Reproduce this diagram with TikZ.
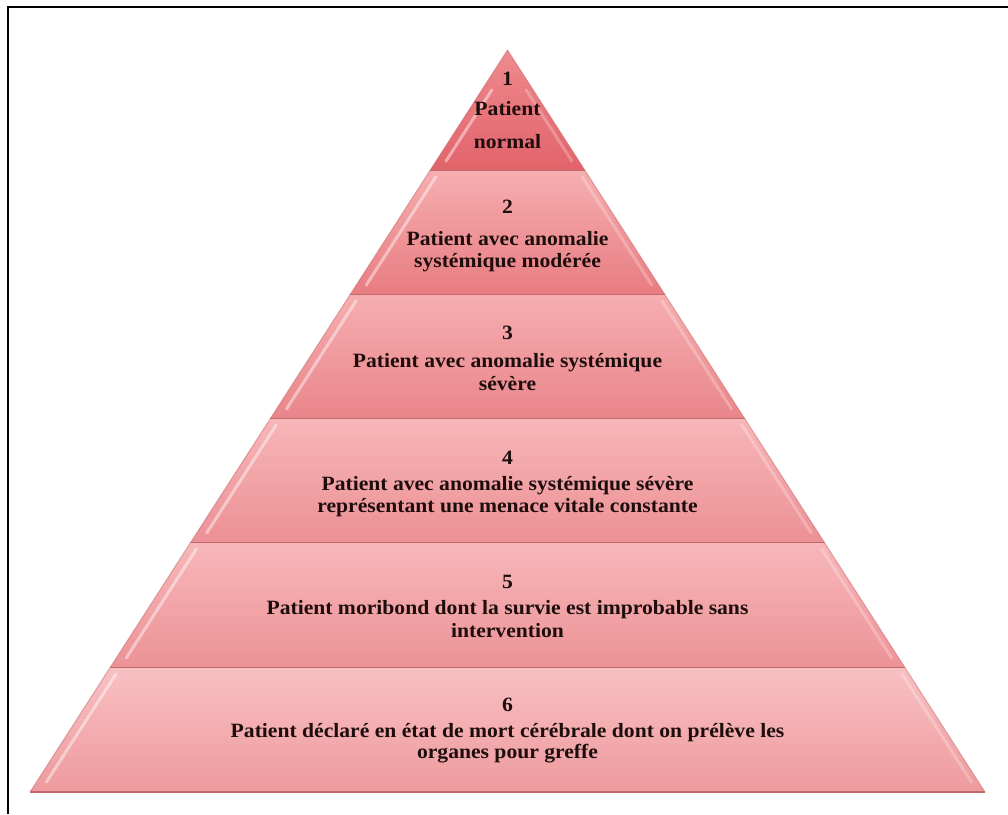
\documentclass[tikz,border=0pt]{standalone}
\usepackage{fontspec}
\newfontfamily\tierfont[FakeStretch=1.065]{Liberation Serif}
\definecolor{txtcol}{HTML}{1E0D0D}
\definecolor{edgecol}{HTML}{C2696E}
\definecolor{ta}{HTML}{EE8A8E}\definecolor{tb}{HTML}{E97379}\definecolor{tc}{HTML}{E2636A}
\definecolor{ua}{HTML}{F6AEB0}\definecolor{ub}{HTML}{F19599}\definecolor{uc}{HTML}{E87C81}
\definecolor{va}{HTML}{F6AEB0}\definecolor{vb}{HTML}{F19A9D}\definecolor{vc}{HTML}{E9858A}
\definecolor{wa}{HTML}{F7B6B8}\definecolor{wb}{HTML}{F3A4A7}\definecolor{wc}{HTML}{EC9094}
\definecolor{xa}{HTML}{F7B7B9}\definecolor{xb}{HTML}{F3A6A9}\definecolor{xc}{HTML}{EC9296}
\definecolor{ya}{HTML}{F8C0C2}\definecolor{yb}{HTML}{F4AEB0}\definecolor{yc}{HTML}{EE9A9D}
\begin{document}
\begin{tikzpicture}[x=1pt,y=-1pt,
  txt/.style={font=\tierfont\bfseries\fontsize{20.3}{22}\selectfont, text=txtcol, inner sep=0pt, anchor=base},
  frameline/.style={line width=2pt, black},
  tierline/.style={line width=2pt, edgecol},
  sideline/.style={line width=1pt, edgecol, opacity=0.5},
  gloss/.style={line width=3pt, white, opacity=0.45, line cap=round}]
\useasboundingbox (0,0) rectangle (1008,814);
\fill[white] (0,0) rectangle (1008,814);
\draw[frameline] (8,814) -- (8,7) -- (1008,7);
\def\cx{507.5}
\def\ay{50}
\def\sl{0.6435}
\foreach \yt/\yb/\ca/\cb/\cc/\gs in {50/171/ta/tb/tc/40, 171/295/ua/ub/uc/6, 295/419/va/vb/vc/6, 419/543/wa/wb/wc/6, 543/668/xa/xb/xc/6, 668/792/ya/yb/yc/6} {
  \pgfmathsetmacro\wt{(\yt-\ay)*\sl}
  \pgfmathsetmacro\wb{(\yb-\ay)*\sl}
  \shade[top color=\ca, middle color=\cb, bottom color=\cc] (\cx-\wt,\yt) -- (\cx+\wt,\yt) -- (\cx+\wb,\yb) -- (\cx-\wb,\yb) -- cycle;
  \draw[sideline] (\cx-\wt,\yt) -- (\cx-\wb,\yb);
  \draw[sideline] (\cx+\wt,\yt) -- (\cx+\wb,\yb);
  \pgfmathsetmacro\ya{\yt+\gs}
  \pgfmathsetmacro\yz{\yb-10}
  \pgfmathsetmacro\xa{\cx-(\ya-\ay)*\sl+10}
  \pgfmathsetmacro\xz{\cx-(\yz-\ay)*\sl+10}
  \pgfmathsetmacro\xra{\cx+(\ya-\ay)*\sl-7}
  \pgfmathsetmacro\xrz{\cx+(\yz-\ay)*\sl-7}
  \draw[gloss] (\xa,\ya) -- (\xz,\yz);
  \draw[gloss, opacity=0.25] (\xra,\ya) -- (\xrz,\yz);
  \draw[tierline] (\cx-\wb,\yb) -- (\cx+\wb,\yb);
}
% tier 1
\node[txt] (n1) at (\cx,85) {1};
\node[txt] (l1a) at (\cx,115) {Patient};
\node[txt] (l1b) at (\cx,148) {normal};
% tier 2
\node[txt] (n2) at (\cx,213) {2};
\node[txt] (l2a) at (\cx,245) {Patient avec anomalie};
\node[txt] (l2b) at (\cx,267) {systémique modérée};
% tier 3
\node[txt] (n3) at (\cx,339) {3};
\node[txt] (l3a) at (\cx,367) {Patient avec anomalie systémique};
\node[txt] (l3b) at (\cx,390) {sévère};
% tier 4
\node[txt] (n4) at (\cx,464) {4};
\node[txt] (l4a) at (\cx,490) {Patient avec anomalie systémique sévère};
\node[txt] (l4b) at (\cx,512) {représentant une menace vitale constante};
% tier 5
\node[txt] (n5) at (\cx,588) {5};
\node[txt] (l5a) at (\cx,614) {Patient moribond dont la survie est improbable sans};
\node[txt] (l5b) at (\cx,637) {intervention};
% tier 6
\node[txt] (n6) at (\cx,711) {6};
\node[txt] (l6a) at (\cx,737) {Patient déclaré en état de mort cérébrale dont on prélève les};
\node[txt] (l6b) at (\cx,758) {organes pour greffe};
\end{tikzpicture}
\end{document}
